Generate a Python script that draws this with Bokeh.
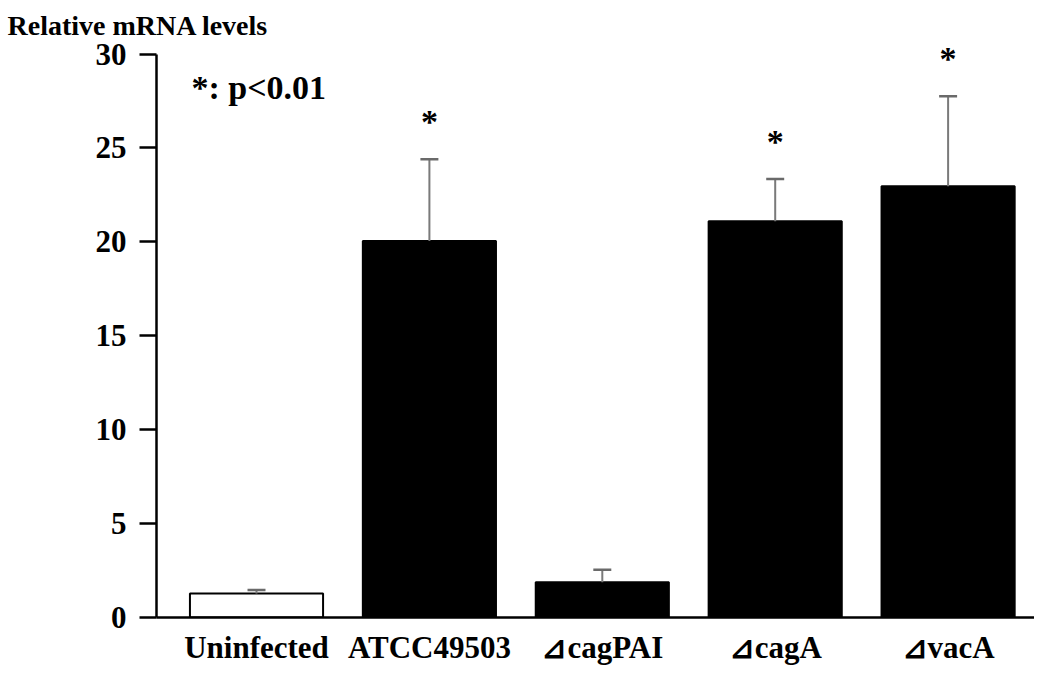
from bokeh.plotting import figure
from bokeh.models import ColumnDataSource, Range1d, FixedTicker
from bokeh.core.properties import value
from bokeh.embed import file_html
from bokeh.resources import INLINE

categories = ["Uninfected", "ATCC49503", "\u22bfcagPAI", "\u22bfcagA", "\u22bfvacA"]
means = [1.28, 20.05, 1.88, 21.1, 22.96]
errors = [0.18, 4.35, 0.66, 2.25, 4.79]
significant = [False, True, False, True, True]
fills = ["white", "black", "black", "black", "black"]
y_ticks = [0, 5, 10, 15, 20, 25, 30]

FONT = "Liberation Serif"
xs = list(range(1, len(categories) + 1))

src = ColumnDataSource(dict(
    x=xs, top=means, fill=fills,
    etop=[m + e for m, e in zip(means, errors)],
))

p = figure(frame_width=878, frame_height=570, output_backend="svg", toolbar_location=None,
           x_range=Range1d(0.4216, 5.4997), y_range=Range1d(0, 30.35),
           min_border_left=156, min_border_right=0, min_border_top=47, min_border_bottom=42,
           title="Relative mRNA levels")
p.outline_line_color = None
p.xgrid.grid_line_color = None
p.ygrid.grid_line_color = None
p.background_fill_color = "white"

p.title.text_font = FONT
p.title.text_font_style = "bold"
p.title.text_font_size = "28px"
p.title.text_color = "black"
p.title.align = "left"
p.title.offset = -149
p.title.standoff = 14

p.vbar(x="x", top="top", bottom=0, width=0.77, source=src,
       fill_color="fill", line_color="black", line_width=2)

# error bars (upper only)
p.segment(x0="x", y0="top", x1="x", y1="etop", source=src, line_color="#7a7a7a", line_width=2)
cap = 0.052
p.segment(x0=[x - cap for x in xs], y0=src.data["etop"], x1=[x + cap for x in xs], y1=src.data["etop"],
          line_color="#6a6a6a", line_width=2.5)

# significance asterisks
sx = [x for x, s in zip(xs, significant) if s]
sy = [t + 2.0 for t, s in zip(src.data["etop"], significant) if s]
p.text(x=sx, y=sy, text=["*"] * len(sx), text_font=value(FONT), text_font_style="bold",
       text_font_size="34px", text_align="center", text_baseline="middle", text_color="black")

p.text(x=[0.624], y=[28.24], text=["*: p<0.01"], text_font=value(FONT), text_font_style="bold",
       text_font_size="34px", text_align="left", text_baseline="alphabetic", text_color="black")

# axes styling
p.yaxis.ticker = FixedTicker(ticks=y_ticks)
p.yaxis.bounds = (0, 30)
p.yaxis.axis_line_width = 2.5
p.yaxis.major_tick_line_width = 2.5
p.yaxis.major_tick_out = 17
p.yaxis.major_tick_in = 0
p.yaxis.minor_tick_line_color = None
p.yaxis.major_label_standoff = 13
p.yaxis.major_label_text_font = FONT
p.yaxis.major_label_text_font_style = "bold"
p.yaxis.major_label_text_font_size = "31px"
p.yaxis.major_label_text_color = "black"

p.xaxis.ticker = FixedTicker(ticks=xs)
p.xaxis.major_label_overrides = {x: c for x, c in zip(xs, categories)}
p.xaxis.axis_line_width = 2.5
p.xaxis.major_tick_line_color = None
p.xaxis.minor_tick_line_color = None
p.xaxis.major_label_standoff = 6
p.xaxis.major_label_text_font = FONT
p.xaxis.major_label_text_font_style = "bold"
p.xaxis.major_label_text_font_size = "31px"
p.xaxis.major_label_text_color = "black"

open("out.html", "w").write(file_html(p, INLINE))
